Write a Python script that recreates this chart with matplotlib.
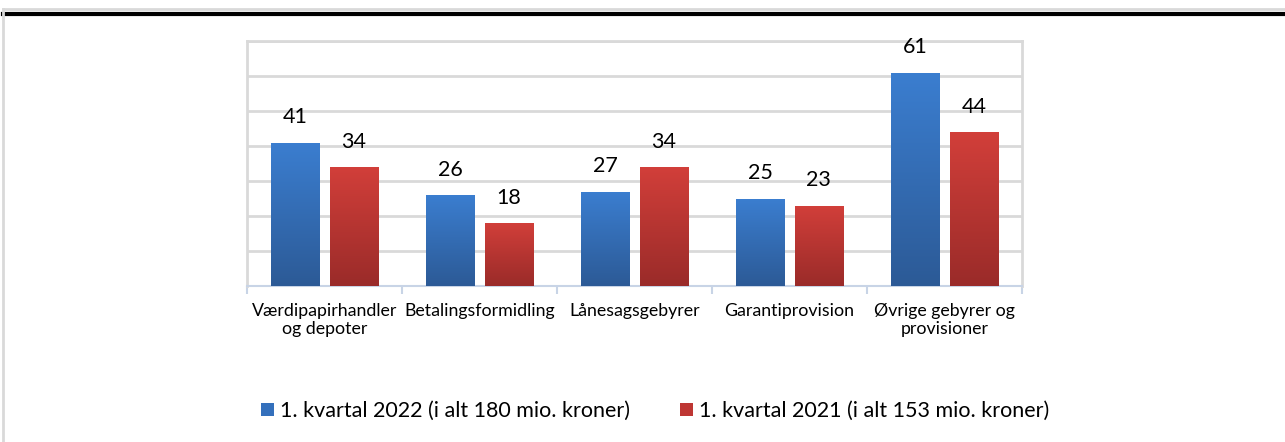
import matplotlib.pyplot as plt
import numpy as np
from matplotlib.colors import LinearSegmentedColormap
from matplotlib.lines import Line2D
from matplotlib.patches import Patch

categories = ["Værdipapirhandler\nog depoter", "Betalingsformidling", "Lånesagsgebyrer",
              "Garantiprovision", "Øvrige gebyrer og\nprovisioner"]
q1_2022 = [41, 26, 27, 25, 61]
q1_2021 = [34, 18, 34, 23, 44]
labels = ["1. kvartal 2022 (i alt 180 mio. kroner)", "1. kvartal 2021 (i alt 153 mio. kroner)"]

plt.rcParams['font.family'] = ['Lato', 'DejaVu Sans']

blue_cmap = LinearSegmentedColormap.from_list("b", ["#2C5A96", "#3B7ED0"])
red_cmap = LinearSegmentedColormap.from_list("r", ["#9A2B29", "#D23F3A"])

fig = plt.figure(figsize=(12.85, 4.42), dpi=100)
ax = fig.add_axes([0.1922, 0.3529, 0.6031, 0.5543])

x = np.arange(len(categories))
w = 0.31
off = 0.19
grad = np.linspace(0, 1, 256).reshape(-1, 1)


def gradient_bars(xs, vals, cmap):
    bars = ax.bar(xs, vals, width=w, color='none', edgecolor='none', zorder=3)
    for b in bars:
        im = ax.imshow(grad, cmap=cmap, aspect='auto', origin='lower',
                       extent=[b.get_x(), b.get_x() + b.get_width(), 0, b.get_height()], zorder=3)
        im.set_clip_path(b)
    for xi, v in zip(xs, vals):
        ax.text(xi, v + 4.3, str(v), ha='center', va='bottom', fontsize=15.5, color='black')
    return bars


gradient_bars(x - off, q1_2022, blue_cmap)
gradient_bars(x + off, q1_2021, red_cmap)

ax.set_xlim(-0.5, len(categories) - 0.5)
ax.set_ylim(0, 70)
ax.set_yticks(np.arange(0, 71, 10))
ax.yaxis.grid(True, color='#d9d9d9', linewidth=2)
ax.set_axisbelow(True)
ax.tick_params(axis='y', left=False, labelleft=False)
ax.set_xticks(x)
ax.set_xticklabels(categories, fontsize=12.8, linespacing=1.15)
ax.tick_params(axis='x', length=0, pad=12)
ax.set_xticks(np.arange(-0.5, len(categories), 1), minor=True)
ax.tick_params(axis='x', which='minor', length=6, color='#c8d4e6', width=1.5)
for s in ['left', 'right', 'top']:
    ax.spines[s].set_color('#d9d9d9')
    ax.spines[s].set_linewidth(2)
ax.spines['bottom'].set_color('#c8d4e6')
ax.spines['bottom'].set_linewidth(1.5)

handles = [Patch(facecolor="#3470BC"), Patch(facecolor="#BE3633")]
fig.legend(handles, labels, loc='center', bbox_to_anchor=(0.51, 0.07), ncol=2, frameon=False,
           fontsize=15.5, handlelength=0.6, handleheight=0.6, handletextpad=0.3, columnspacing=2.3)

# page frame
fig.add_artist(Line2D([0.0023, 1], [0.980, 0.980], color='#d9d9d9', linewidth=2, transform=fig.transFigure))
fig.add_artist(Line2D([0.0023, 1], [0.968, 0.968], color='black', linewidth=3, transform=fig.transFigure))
fig.add_artist(Line2D([0.0023, 0.0023], [0, 0.980], color='#d9d9d9', linewidth=2, transform=fig.transFigure))

plt.savefig("out.png", dpi=100)
